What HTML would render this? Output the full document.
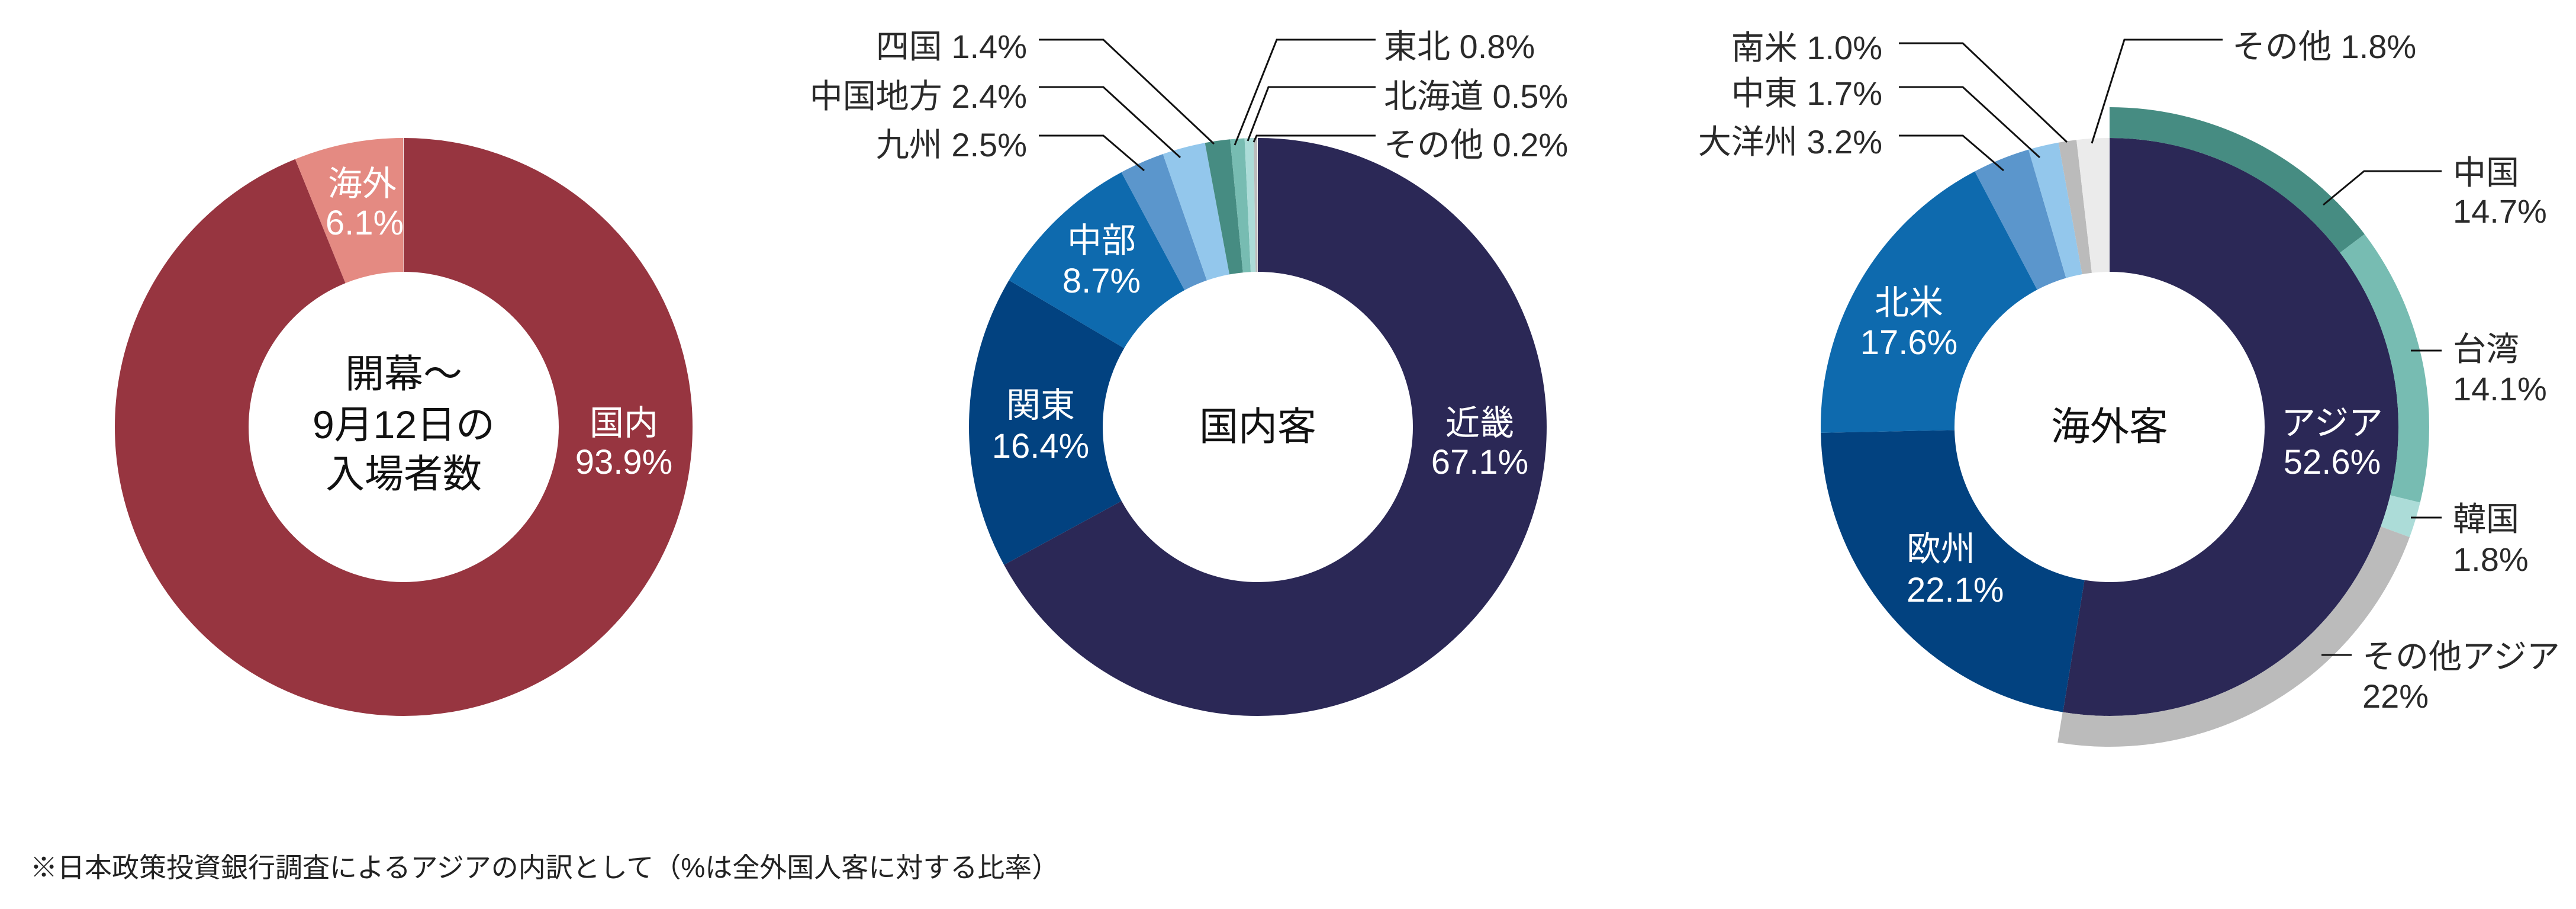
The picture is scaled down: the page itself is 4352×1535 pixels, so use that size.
<!DOCTYPE html>
<html><head><meta charset="utf-8"><style>
html,body{margin:0;padding:0;background:#fff;}
svg{display:block;}
text{font-family:"Liberation Sans","Noto Sans CJK JP",sans-serif;}
.w{fill:#fff;font-size:58px;text-anchor:middle;}
.c{fill:#111;font-size:66px;text-anchor:middle;}
.l{fill:#2a2a2a;font-size:56px;}
.ln{stroke:#111;stroke-width:3;fill:none;}
</style></head><body>
<svg width="4352" height="1535" viewBox="0 0 4352 1535" xmlns="http://www.w3.org/2000/svg">
<!-- chart 1 -->
<g transform="translate(682,721) rotate(-90)" fill="none" stroke-width="226">
<circle r="375" pathLength="100" stroke="#973540" stroke-dasharray="93.9 100" stroke-dashoffset="0"/>
<circle r="375" pathLength="100" stroke="#e48a82" stroke-dasharray="6.1 100" stroke-dashoffset="-93.9"/>
</g>
<text class="w" x="612" y="330">海外</text>
<text class="w" x="616" y="396">6.1%</text>
<text class="w" x="1054" y="734">国内</text>
<text class="w" x="1054" y="800">93.9%</text>
<text class="c" x="682" y="654">開幕～</text>
<text class="c" x="682" y="740">9月12日の</text>
<text class="c" x="682" y="823">入場者数</text>

<!-- chart 2 -->
<g transform="translate(2125,721) rotate(-90)" fill="none" stroke-width="226">
<circle r="375" pathLength="100" stroke="#2b2856" stroke-dasharray="67.1 100" stroke-dashoffset="0"/>
<circle r="375" pathLength="100" stroke="#024280" stroke-dasharray="16.4 100" stroke-dashoffset="-67.1"/>
<circle r="375" pathLength="100" stroke="#0e6aae" stroke-dasharray="8.7 100" stroke-dashoffset="-83.5"/>
<circle r="375" pathLength="100" stroke="#5b96cc" stroke-dasharray="2.5 100" stroke-dashoffset="-92.2"/>
<circle r="375" pathLength="100" stroke="#93c7ec" stroke-dasharray="2.4 100" stroke-dashoffset="-94.7"/>
<circle r="375" pathLength="100" stroke="#468c82" stroke-dasharray="1.4 100" stroke-dashoffset="-97.1"/>
<circle r="375" pathLength="100" stroke="#77bcb2" stroke-dasharray="0.8 100" stroke-dashoffset="-98.5"/>
<circle r="375" pathLength="100" stroke="#acdcd8" stroke-dasharray="0.5 100" stroke-dashoffset="-99.3"/>
<circle r="375" pathLength="100" stroke="#bbbbbb" stroke-dasharray="0.2 100" stroke-dashoffset="-99.8"/>
</g>
<text class="w" x="1861" y="426">中部</text>
<text class="w" x="1861" y="494">8.7%</text>
<text class="w" x="1758" y="704">関東</text>
<text class="w" x="1758" y="773">16.4%</text>
<text class="w" x="2500" y="734">近畿</text>
<text class="w" x="2500" y="800">67.1%</text>
<text class="c" x="2125" y="743">国内客</text>
<text class="l" x="1735" y="98" text-anchor="end">四国 1.4%</text>
<text class="l" x="1735" y="182" text-anchor="end">中国地方 2.4%</text>
<text class="l" x="1735" y="264" text-anchor="end">九州 2.5%</text>
<polyline class="ln" points="1755,67 1864,67 2051,243"/>
<polyline class="ln" points="1755,147 1864,147 1994,266"/>
<polyline class="ln" points="1755,229 1864,229 1933,288"/>
<text class="l" x="2338" y="98">東北 0.8%</text>
<text class="l" x="2338" y="182">北海道 0.5%</text>
<text class="l" x="2338" y="264">その他 0.2%</text>
<polyline class="ln" points="2324,67 2157,67 2086,245"/>
<polyline class="ln" points="2324,147 2143,147 2108,238"/>
<polyline class="ln" points="2324,229 2123,229 2118,240"/>

<!-- chart 3 -->
<g transform="translate(3564,721) rotate(-90)" fill="none">
<g stroke-width="226">
<circle r="375" pathLength="100" stroke="#2b2856" stroke-dasharray="52.6 100" stroke-dashoffset="0"/>
<circle r="375" pathLength="100" stroke="#024280" stroke-dasharray="22.1 100" stroke-dashoffset="-52.6"/>
<circle r="375" pathLength="100" stroke="#0e6aae" stroke-dasharray="17.6 100" stroke-dashoffset="-74.7"/>
<circle r="375" pathLength="100" stroke="#5b96cc" stroke-dasharray="3.2 100" stroke-dashoffset="-92.3"/>
<circle r="375" pathLength="100" stroke="#93c7ec" stroke-dasharray="1.7 100" stroke-dashoffset="-95.5"/>
<circle r="375" pathLength="100" stroke="#bbbbbb" stroke-dasharray="1.0 100" stroke-dashoffset="-97.2"/>
<circle r="375" pathLength="100" stroke="#ebebeb" stroke-dasharray="1.8 100" stroke-dashoffset="-98.2"/>
</g>
<g stroke-width="52">
<circle r="514" pathLength="100" stroke="#468c82" stroke-dasharray="14.7 100" stroke-dashoffset="0"/>
<circle r="514" pathLength="100" stroke="#77bcb2" stroke-dasharray="14.1 100" stroke-dashoffset="-14.7"/>
<circle r="514" pathLength="100" stroke="#acdcd8" stroke-dasharray="1.8 100" stroke-dashoffset="-28.8"/>
<circle r="514" pathLength="100" stroke="#bbbbbb" stroke-dasharray="22 100" stroke-dashoffset="-30.6"/>
</g>
</g>
<text class="w" x="3225" y="531">北米</text>
<text class="w" x="3225" y="598">17.6%</text>
<text class="w" x="3221" y="947" style="text-anchor:start">欧州</text>
<text class="w" x="3221" y="1016" style="text-anchor:start">22.1%</text>
<text class="w" x="3940" y="734">アジア</text>
<text class="w" x="3940" y="800">52.6%</text>
<text class="c" x="3564" y="743">海外客</text>
<text class="l" x="3180" y="100" text-anchor="end">南米 1.0%</text>
<text class="l" x="3180" y="177" text-anchor="end">中東 1.7%</text>
<text class="l" x="3180" y="259" text-anchor="end">大洋州 3.2%</text>
<polyline class="ln" points="3208,73 3316,73 3492,240"/>
<polyline class="ln" points="3208,147 3316,147 3446,266"/>
<polyline class="ln" points="3208,229 3316,229 3385,288"/>
<text class="l" x="3771" y="98">その他 1.8%</text>
<polyline class="ln" points="3755,67 3589,67 3534,242"/>
<text class="l" x="4144" y="311">中国</text>
<text class="l" x="4144" y="376">14.7%</text>
<polyline class="ln" points="4125,289 3994,289 3925,346"/>
<text class="l" x="4144" y="609">台湾</text>
<text class="l" x="4144" y="676">14.1%</text>
<line class="ln" x1="4073" y1="592" x2="4125" y2="592"/>
<text class="l" x="4144" y="896">韓国</text>
<text class="l" x="4144" y="964">1.8%</text>
<line class="ln" x1="4073" y1="874" x2="4125" y2="874"/>
<text class="l" x="3991" y="1128">その他アジア</text>
<text class="l" x="3991" y="1195">22%</text>
<line class="ln" x1="3922" y1="1106" x2="3973" y2="1106"/>

<text x="51" y="1481" style="font-size:46px;fill:#222;">※日本政策投資銀行調査によるアジアの内訳として（%は全外国人客に対する比率）</text>
</svg>
</body></html>
